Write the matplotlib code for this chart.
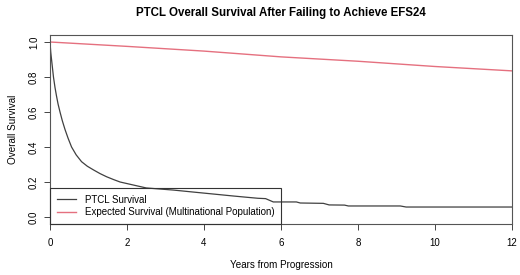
import matplotlib
matplotlib.use('Agg')
import matplotlib.pyplot as plt
import numpy as np

plt.rcParams['font.family'] = ['Liberation Sans', 'DejaVu Sans']

# KM estimate
ptcl_time = [0, 0.02, 0.05, 0.09, 0.13, 0.17, 0.21, 0.26, 0.32, 0.39, 0.47, 0.56,
             0.68, 0.82, 0.97, 1.13, 1.3, 1.47, 1.65, 1.82, 2.16, 2.5, 2.85, 3.2,
             3.7, 4.3, 4.76, 5.1, 5.4, 5.6, 5.8, 6.4, 6.5, 7.1, 7.25, 7.65, 7.75,
             9.1, 9.25, 12]
ptcl_surv = [1.0, 0.94, 0.88, 0.80, 0.74, 0.69, 0.645, 0.60, 0.55, 0.50, 0.45, 0.40,
             0.355, 0.316, 0.29, 0.269, 0.248, 0.23, 0.214, 0.20, 0.183, 0.166, 0.16, 0.154,
             0.143, 0.13, 0.12, 0.113, 0.107, 0.105, 0.086, 0.086, 0.08, 0.078, 0.069, 0.068, 0.063,
             0.063, 0.057, 0.057]

# expected survival of the matched population
exp_time = [0, 2, 4, 6, 8, 10, 12]
exp_surv = [1.0, 0.975, 0.948, 0.915, 0.89, 0.86, 0.835]

xticks = [0, 2, 4, 6, 8, 10, 12]
yticks = [0.0, 0.2, 0.4, 0.6, 0.8, 1.0]

fig = plt.figure(figsize=(5.2, 2.75), dpi=100)
ax = fig.add_axes([50/520, 1 - 224/275, 462/520, 189/275])

ax.plot(ptcl_time, ptcl_surv, color='#404040', lw=0.9, label='PTCL Survival')
ax.plot(exp_time, exp_surv, color='#E5707F', lw=1.0,
        label='Expected Survival (Multinational Population)')

ax.set_xlim(0, 12)
ax.set_ylim(-0.04, 1.04)
ax.set_xticks(xticks)
ax.set_xticklabels([str(v) for v in xticks])
ax.set_yticks(yticks)
ax.set_yticklabels(['%.1f' % v for v in yticks], rotation=90, va='center')
ax.tick_params(labelsize=7, length=4, width=0.7, color='#444444')
ax.tick_params(axis='x', pad=6)
ax.tick_params(axis='y', pad=4)

for s in ax.spines.values():
    s.set_linewidth(0.8)
    s.set_color('#555555')

ax.set_xlabel('Years from Progression', fontsize=7.1, labelpad=9)
ax.set_ylabel('Overall Survival', fontsize=7.1, labelpad=8)
ax.set_title('PTCL Overall Survival After Failing to Achieve EFS24',
             fontsize=8.3, fontweight='bold', pad=14)

leg = ax.legend(loc='lower left', bbox_to_anchor=(0, 0), borderaxespad=0,
                fontsize=7.0, fancybox=False, edgecolor='#333333', facecolor='none',
                framealpha=1, handlelength=2.0, handletextpad=0.9,
                borderpad=0.7, labelspacing=0.25)
leg.get_frame().set_linewidth(0.8)

fig.savefig('out.png', dpi=100)
